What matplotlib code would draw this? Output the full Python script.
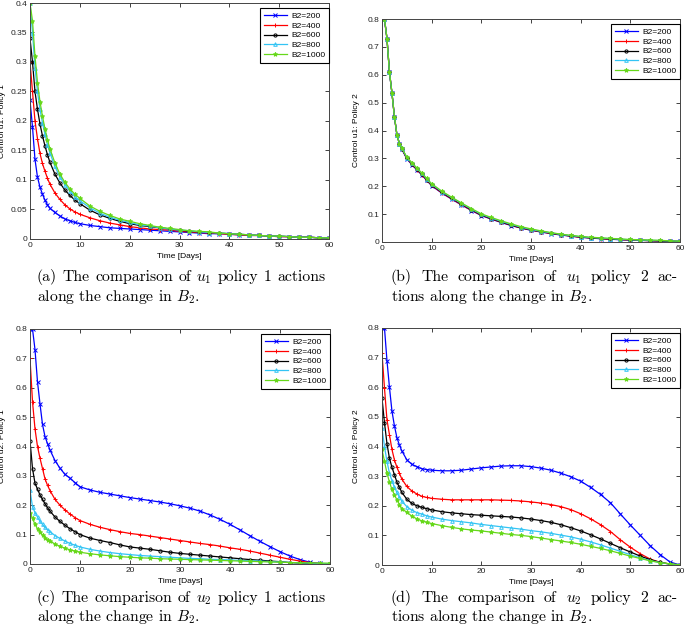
#comparison of control actions for different B2 values

#importing the libraries
import numpy as np
import matplotlib
matplotlib.use('Agg')
import matplotlib.pyplot as plt
from matplotlib.ticker import FuncFormatter

plt.rcParams['mathtext.fontset'] = 'cm'

#time grid (days) the values were read on
t = [0, 0.5, 1, 1.5, 2, 2.5, 3, 3.5, 4, 5, 6, 7, 8, 9, 10, 12, 14, 16, 18,
     20, 22, 24, 26, 28, 30, 32, 34, 36, 38, 40, 42, 44, 46, 48, 50, 52, 54, 56, 58, 60]

labels = ['B2=200', 'B2=400', 'B2=600', 'B2=800', 'B2=1000']

#(a) u1 policy 1
a_200 = [0.235, 0.19, 0.135, 0.105, 0.088, 0.076, 0.066, 0.058, 0.052, 0.045, 0.039, 0.034, 0.031, 0.028,
         0.026, 0.023, 0.021, 0.019, 0.018, 0.017, 0.016, 0.015, 0.014, 0.013, 0.012, 0.011, 0.01, 0.009,
         0.009, 0.008, 0.007, 0.006, 0.006, 0.005, 0.004, 0.004, 0.003, 0.003, 0.002, 0.002]
a_400 = [0.3, 0.25, 0.2, 0.17, 0.145, 0.128, 0.115, 0.103, 0.093, 0.078, 0.067, 0.058, 0.051, 0.046,
         0.042, 0.036, 0.031, 0.027, 0.024, 0.021, 0.019, 0.017, 0.016, 0.015, 0.013, 0.012, 0.011, 0.01,
         0.009, 0.008, 0.007, 0.006, 0.006, 0.005, 0.004, 0.004, 0.003, 0.003, 0.002, 0.002]
a_600 = [0.34, 0.3, 0.25, 0.22, 0.195, 0.175, 0.158, 0.143, 0.13, 0.11, 0.095, 0.083, 0.074, 0.066,
         0.06, 0.049, 0.041, 0.035, 0.03, 0.026, 0.023, 0.021, 0.019, 0.017, 0.015, 0.013, 0.012, 0.011,
         0.01, 0.009, 0.008, 0.007, 0.006, 0.005, 0.005, 0.004, 0.003, 0.003, 0.002, 0.002]
a_800 = [0.4, 0.35, 0.29, 0.25, 0.22, 0.197, 0.178, 0.16, 0.146, 0.123, 0.105, 0.092, 0.081, 0.072,
         0.065, 0.053, 0.044, 0.037, 0.032, 0.028, 0.024, 0.022, 0.019, 0.017, 0.015, 0.014, 0.012, 0.011,
         0.01, 0.009, 0.008, 0.007, 0.006, 0.005, 0.005, 0.004, 0.003, 0.003, 0.002, 0.002]
a_1000 = [0.4, 0.37, 0.31, 0.265, 0.233, 0.208, 0.187, 0.168, 0.153, 0.129, 0.11, 0.096, 0.085, 0.076,
          0.069, 0.056, 0.047, 0.04, 0.034, 0.03, 0.026, 0.023, 0.02, 0.018, 0.016, 0.014, 0.013, 0.012,
          0.01, 0.009, 0.008, 0.007, 0.006, 0.005, 0.005, 0.004, 0.003, 0.003, 0.002, 0.002]

#(b) u1 policy 2
b_200 = [0.8, 0.8, 0.73, 0.61, 0.535, 0.45, 0.385, 0.353, 0.333, 0.298, 0.278, 0.259, 0.241, 0.221,
         0.202, 0.176, 0.154, 0.133, 0.113, 0.095, 0.082, 0.07, 0.059, 0.05, 0.042, 0.036, 0.03, 0.025,
         0.021, 0.017, 0.014, 0.012, 0.01, 0.008, 0.007, 0.006, 0.005, 0.004, 0.003, 0.002]
b_400 = [0.8, 0.8, 0.73, 0.61, 0.535, 0.45, 0.385, 0.353, 0.334, 0.3, 0.279, 0.26, 0.242, 0.222,
         0.203, 0.177, 0.155, 0.134, 0.114, 0.096, 0.083, 0.071, 0.06, 0.05, 0.043, 0.036, 0.031, 0.026,
         0.021, 0.017, 0.015, 0.012, 0.01, 0.009, 0.007, 0.006, 0.005, 0.004, 0.003, 0.002]
b_600 = [0.8, 0.8, 0.73, 0.61, 0.535, 0.45, 0.385, 0.353, 0.335, 0.301, 0.281, 0.262, 0.244, 0.224,
         0.205, 0.179, 0.157, 0.136, 0.116, 0.097, 0.084, 0.072, 0.061, 0.051, 0.044, 0.037, 0.032, 0.026,
         0.022, 0.018, 0.015, 0.013, 0.011, 0.009, 0.008, 0.006, 0.005, 0.004, 0.003, 0.002]
b_800 = [0.8, 0.8, 0.73, 0.61, 0.535, 0.45, 0.385, 0.353, 0.336, 0.303, 0.283, 0.264, 0.246, 0.226,
         0.207, 0.181, 0.159, 0.138, 0.118, 0.099, 0.086, 0.074, 0.063, 0.053, 0.045, 0.038, 0.033, 0.027,
         0.023, 0.019, 0.016, 0.014, 0.012, 0.01, 0.008, 0.007, 0.006, 0.005, 0.004, 0.003]
b_1000 = [0.8, 0.8, 0.73, 0.61, 0.535, 0.45, 0.385, 0.353, 0.337, 0.304, 0.285, 0.266, 0.248, 0.228,
          0.209, 0.183, 0.161, 0.14, 0.12, 0.101, 0.088, 0.076, 0.065, 0.055, 0.047, 0.04, 0.034, 0.028,
          0.024, 0.02, 0.017, 0.015, 0.013, 0.011, 0.009, 0.008, 0.007, 0.006, 0.004, 0.003]

#(c) u2 policy 1
c_200 = [0.8, 0.8, 0.73, 0.62, 0.545, 0.475, 0.434, 0.41, 0.388, 0.352, 0.326, 0.305, 0.292, 0.277,
         0.263, 0.252, 0.244, 0.238, 0.232, 0.226, 0.221, 0.216, 0.211, 0.205, 0.198, 0.19, 0.18, 0.167,
         0.152, 0.135, 0.116, 0.096, 0.077, 0.059, 0.042, 0.027, 0.015, 0.006, 0.002, 0.0]
c_400 = [0.7, 0.553, 0.46, 0.4, 0.36, 0.325, 0.29, 0.268, 0.25, 0.22, 0.2, 0.184, 0.17, 0.158,
         0.148, 0.135, 0.125, 0.117, 0.11, 0.104, 0.1, 0.095, 0.09, 0.085, 0.08, 0.075, 0.07, 0.066,
         0.061, 0.055, 0.05, 0.044, 0.037, 0.03, 0.023, 0.016, 0.01, 0.005, 0.002, 0.0]
c_600 = [0.42, 0.325, 0.275, 0.255, 0.235, 0.22, 0.205, 0.192, 0.18, 0.16, 0.145, 0.132, 0.12, 0.11,
         0.1, 0.088, 0.08, 0.073, 0.065, 0.058, 0.054, 0.05, 0.045, 0.04, 0.036, 0.033, 0.03, 0.027,
         0.024, 0.021, 0.018, 0.015, 0.013, 0.01, 0.008, 0.005, 0.003, 0.002, 0.001, 0.0]
c_800 = [0.252, 0.195, 0.175, 0.16, 0.145, 0.135, 0.125, 0.117, 0.11, 0.097, 0.087, 0.078, 0.07, 0.064,
         0.058, 0.05, 0.044, 0.039, 0.035, 0.032, 0.029, 0.027, 0.025, 0.023, 0.021, 0.019, 0.018, 0.016,
         0.015, 0.014, 0.012, 0.011, 0.01, 0.008, 0.007, 0.005, 0.004, 0.003, 0.002, 0.001]
c_1000 = [0.175, 0.155, 0.135, 0.12, 0.108, 0.098, 0.09, 0.083, 0.078, 0.068, 0.06, 0.054, 0.048, 0.044,
          0.04, 0.035, 0.031, 0.028, 0.025, 0.023, 0.021, 0.02, 0.018, 0.017, 0.016, 0.015, 0.014, 0.013,
          0.012, 0.011, 0.01, 0.009, 0.008, 0.007, 0.006, 0.005, 0.004, 0.004, 0.003, 0.003]

#(d) u2 policy 2
d_200 = [0.8, 0.8, 0.69, 0.6, 0.52, 0.47, 0.43, 0.405, 0.385, 0.355, 0.34, 0.332, 0.325, 0.322,
         0.32, 0.318, 0.318, 0.32, 0.324, 0.328, 0.331, 0.334, 0.335, 0.335, 0.332, 0.327, 0.32, 0.31,
         0.298, 0.283, 0.262, 0.238, 0.21, 0.172, 0.135, 0.1, 0.065, 0.035, 0.01, 0.0]
d_400 = [0.715, 0.597, 0.49, 0.44, 0.39, 0.355, 0.33, 0.31, 0.29, 0.265, 0.25, 0.24, 0.232, 0.228,
         0.225, 0.222, 0.22, 0.22, 0.22, 0.22, 0.22, 0.219, 0.218, 0.216, 0.213, 0.209, 0.204, 0.197,
         0.187, 0.173, 0.156, 0.136, 0.113, 0.085, 0.06, 0.038, 0.02, 0.009, 0.003, 0.0]
d_600 = [0.563, 0.48, 0.41, 0.36, 0.33, 0.305, 0.28, 0.262, 0.245, 0.222, 0.208, 0.2, 0.195, 0.19,
         0.186, 0.18, 0.176, 0.173, 0.17, 0.168, 0.166, 0.164, 0.162, 0.159, 0.155, 0.15, 0.144, 0.136,
         0.126, 0.115, 0.102, 0.088, 0.073, 0.058, 0.044, 0.03, 0.018, 0.009, 0.003, 0.0]
d_800 = [0.462, 0.4, 0.35, 0.31, 0.285, 0.263, 0.245, 0.229, 0.215, 0.197, 0.185, 0.177, 0.172, 0.166,
         0.162, 0.155, 0.15, 0.146, 0.142, 0.137, 0.133, 0.129, 0.125, 0.121, 0.116, 0.112, 0.107, 0.101,
         0.095, 0.087, 0.078, 0.068, 0.057, 0.046, 0.035, 0.024, 0.015, 0.008, 0.003, 0.0]
d_1000 = [0.39, 0.35, 0.31, 0.28, 0.255, 0.237, 0.22, 0.204, 0.19, 0.178, 0.165, 0.156, 0.149, 0.144,
          0.14, 0.133, 0.127, 0.122, 0.118, 0.115, 0.111, 0.107, 0.103, 0.1, 0.096, 0.091, 0.086, 0.081,
          0.076, 0.07, 0.063, 0.056, 0.048, 0.039, 0.03, 0.022, 0.014, 0.008, 0.004, 0.001]

colors = ['#0000ff', '#ff0000', '#000000', '#33c4f4', '#66d81a']
markers = ['x', '+', 'o', '^', '*']
msizes = [3, 3.5, 2.3, 2.6, 3.2]

W, H = 685, 627
fig = plt.figure(figsize=(W / 100, H / 100), dpi=100)

# axes boxes in pixels: left, top, right, bottom
panels = [
    (30, 3, 329, 239, [a_200, a_400, a_600, a_800, a_1000], 0.4, 0.05, 'Control u1: Policy 1', 6),
    (382, 19, 680, 242, [b_200, b_400, b_600, b_800, b_1000], 0.8, 0.1, 'Control u1: Policy 2', 360),
    (30, 329, 330, 564, [c_200, c_400, c_600, c_800, c_1000], 0.8, 0.1, 'Control u2: Policy 1', 6),
    (382, 328, 680, 565, [d_200, d_400, d_600, d_800, d_1000], 0.8, 0.1, 'Control u2: Policy 2', 360),
]

tickfont = {'family': 'Liberation Sans', 'size': 6}

def fmt(v, pos):
    return '%g' % round(v, 3)

for (l, tp, r, b, series, ymax, ystep, ylab, ylx) in panels:
    ax = fig.add_axes([l / W, 1 - b / H, (r - l) / W, (b - tp) / H])
    for s, c, m, ms, lab in zip(series, colors, markers, msizes, labels):
        mfc = 'none' if m in ('o', '^') else c
        ax.plot(t, s, color=c, marker=m, markersize=ms, markerfacecolor=mfc,
                markeredgewidth=0.7, linewidth=0.9, label=lab)
    ax.set_xlim(0, 60)
    ax.set_ylim(0, ymax)
    ax.set_xticks(np.arange(0, 61, 10))
    ax.set_yticks(np.arange(0, ymax + 1e-9, ystep))
    ax.yaxis.set_major_formatter(FuncFormatter(fmt))
    ax.tick_params(direction='in', top=True, right=True, length=3, width=0.6, pad=2,
                   labelsize=6, colors='#222222')
    for lbl in ax.get_xticklabels() + ax.get_yticklabels():
        lbl.set_family('Liberation Sans')
    for sp in ax.spines.values():
        sp.set_linewidth(0.7)
        sp.set_color('#444444')
    ax.set_xlabel('Time [Days]', fontdict=tickfont, labelpad=3)
    ax.set_ylabel(ylab, fontdict=tickfont)
    # y label x position in pixels
    ax.yaxis.set_label_coords((ylx - l) / (r - l), 0.5)
    leg = ax.legend(loc='upper right', bbox_to_anchor=(1.0, 1 - 5 / (b - tp)), borderaxespad=0.0,
                    prop={'family': 'Liberation Sans', 'size': 6}, handlelength=2.8,
                    labelspacing=0.25, borderpad=0.45, handletextpad=0.5, fancybox=False,
                    framealpha=1)
    leg.get_frame().set_edgecolor('black')
    leg.get_frame().set_linewidth(0.8)

#captions, first line justified to the column width
capfont = {'family': 'cmr10', 'size': 11.3}
captions = [
    (37, 325, 281, 301, r'(a) The comparison of $u_1$ policy 1 actions', r'along the change in $B_2$.'),
    (391, 677, 281, 301, r'(b) The comparison of $u_1$ policy 2 ac-', r'tions along the change in $B_2$.'),
    (37, 325, 602, 621, r'(c) The comparison of $u_2$ policy 1 actions', r'along the change in $B_2$.'),
    (391, 677, 602, 621, r'(d) The comparison of $u_2$ policy 2 ac-', r'tions along the change in $B_2$.'),
]
renderer = fig.canvas.get_renderer()
for (x, xend, y1, y2, s1, s2) in captions:
    words = s1.split(' ')
    txts = [fig.text(0, 1 - y1 / H, w, fontdict=capfont, va='baseline', ha='left') for w in words]
    widths = [tx.get_window_extent(renderer).width for tx in txts]
    gap = (xend - x - sum(widths)) / (len(words) - 1)
    pos = x
    for tx, wd in zip(txts, widths):
        tx.set_x(pos / W)
        pos += wd + gap
    fig.text(x / W, 1 - y2 / H, s2, fontdict=capfont, va='baseline', ha='left')

fig.savefig('out.png', dpi=100)
